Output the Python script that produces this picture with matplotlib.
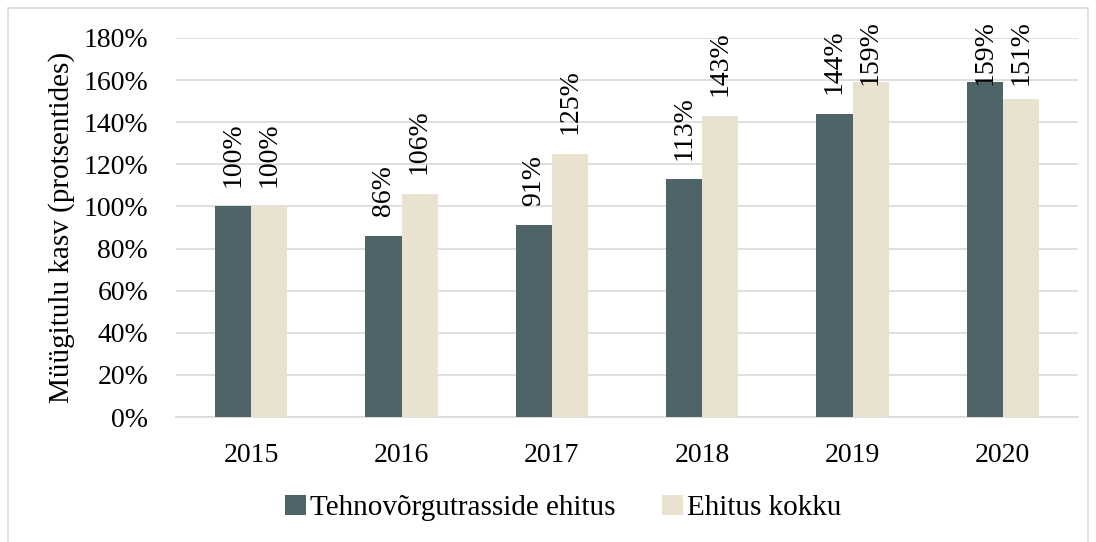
import matplotlib.pyplot as plt
import numpy as np
from matplotlib.patches import Rectangle

plt.rcParams['font.family'] = ['Liberation Serif', 'DejaVu Serif']
plt.rcParams['font.size'] = 20

years = ['2015', '2016', '2017', '2018', '2019', '2020']
tehno = [100, 86, 91, 113, 144, 159]
kokku = [100, 106, 125, 143, 159, 151]
series_names = ['Tehnovõrgutrasside ehitus', 'Ehitus kokku']
colors = ['#4F6468', '#EAE2D0']

fig = plt.figure(figsize=(10.96, 5.42), dpi=100)
ax = fig.add_axes([0.1606, 0.2306, 0.823, 0.6993])

# outer frame like the excel chart area
fig.patches.append(Rectangle((8 / 1096, -0.01), 1080 / 1096, 1 - 8 / 542 + 0.01,
                             transform=fig.transFigure, fill=False,
                             edgecolor='#D9D9D9', linewidth=1.2))

x = np.arange(len(years))
w = 0.24
b1 = ax.bar(x - w / 2, tehno, w, color=colors[0], label=series_names[0], zorder=3)
b2 = ax.bar(x + w / 2, kokku, w, color=colors[1], label=series_names[1], zorder=3)

labels = []
for bars, vals in [(b1, tehno), (b2, kokku)]:
    for rect, v in zip(bars, vals):
        t = ax.annotate(f'{v}%', (rect.get_x() + rect.get_width() / 2, rect.get_height()),
                        xytext=(0, 14), textcoords='offset points',
                        rotation=90, ha='center', va='bottom', zorder=4,
                        annotation_clip=False)
        labels.append(t)

ax.set_xlim(-0.5, len(years) - 0.5)
ax.set_ylim(0, 180)
ax.set_yticks(range(0, 181, 20))
ax.set_yticklabels([f'{t}%' for t in range(0, 181, 20)])
ax.set_xticks(x)
ax.set_xticklabels(years)
ax.yaxis.grid(True, color='#D9D9D9', linewidth=1.2, zorder=0)
ax.set_axisbelow(True)
for s in ['top', 'right', 'left']:
    ax.spines[s].set_visible(False)
ax.spines['bottom'].set_color('#D9D9D9')
ax.spines['bottom'].set_linewidth(1.2)
ax.tick_params(axis='x', length=0, pad=19)
ax.tick_params(axis='y', length=0, pad=20)
ax.set_ylabel('Müügitulu kasv (protsentides)', labelpad=6, fontsize=21)

fig.legend(loc='center', bbox_to_anchor=(0.514, 0.063), ncol=2, frameon=False,
           fontsize=21, handlelength=0.7, handleheight=0.7, handletextpad=0.15,
           columnspacing=1.6)

# excel keeps labels inside the chart: push down the ones that stick out at the top
fig.canvas.draw()
r = fig.canvas.get_renderer()
top_limit = fig.bbox.height - 20
for t in labels:
    bb = t.get_window_extent(r)
    if bb.y1 > top_limit:
        dx, dy = t.xyann
        t.xyann = (dx, dy - (bb.y1 - top_limit) * 72 / fig.dpi)

fig.savefig('out.png', dpi=100)
